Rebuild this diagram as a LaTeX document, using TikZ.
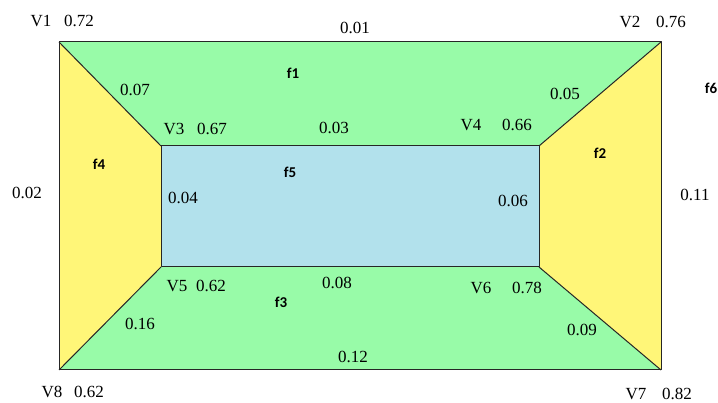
\documentclass[tikz,border=0pt]{standalone}
\usepackage{fontspec}
\setmainfont{Liberation Serif}
\newfontfamily\facefont{Carlito}
\begin{document}
\begin{tikzpicture}[x=1pt,y=-1pt,
  edge/.style={draw=black!85,line width=1pt,line join=round},
  val/.style={font=\fontsize{17}{19}\selectfont,inner sep=0pt},
  face/.style={font=\facefont\bfseries\fontsize{15}{17}\selectfont,inner sep=0pt}]
\definecolor{facegreen}{RGB}{152,251,168}
\definecolor{faceyellow}{RGB}{255,246,120}
\definecolor{faceblue}{RGB}{178,225,236}
\useasboundingbox (0,0) rectangle (718,403);
% vertices
\coordinate (v1) at (59,42);
\coordinate (v2) at (661,42);
\coordinate (v7) at (661,370);
\coordinate (v8) at (59,370);
\coordinate (v3) at (161,146);
\coordinate (v4) at (539,146);
\coordinate (v6) at (539,267);
\coordinate (v5) at (161,267);
% faces
\fill[facegreen] (v1) -- (v2) -- (v4) -- (v3) -- cycle;
\fill[facegreen] (v5) -- (v6) -- (v7) -- (v8) -- cycle;
\fill[faceyellow] (v1) -- (v3) -- (v5) -- (v8) -- cycle;
\fill[faceyellow] (v2) -- (v7) -- (v6) -- (v4) -- cycle;
\fill[faceblue] (v3) -- (v4) -- (v6) -- (v5) -- cycle;
% edges
\draw[edge] (v1) -- (v2) -- (v7) -- (v8) -- cycle;
\draw[edge] (v3) -- (v4) -- (v6) -- (v5) -- cycle;
\draw[edge] (v1) -- (v3);
\draw[edge] (v2) -- (v4);
\draw[edge] (v7) -- (v6);
\draw[edge] (v8) -- (v5);
% vertex labels
\node[val] (lv1) at (41,21) {V1};
\node[val] (wv1) at (79,21) {0.72};
\node[val] (lv2) at (630,22) {V2};
\node[val] (wv2) at (671,22) {0.76};
\node[val] (lv3) at (174,129) {V3};
\node[val] (wv3) at (212,129) {0.67};
\node[val] (lv4) at (471,125) {V4};
\node[val] (wv4) at (517,125) {0.66};
\node[val] (lv5) at (177,286) {V5};
\node[val] (wv5) at (211,286) {0.62};
\node[val] (lv6) at (481,288) {V6};
\node[val] (wv6) at (527,288) {0.78};
\node[val] (lv7) at (636,394) {V7};
\node[val] (wv7) at (677,394) {0.82};
\node[val] (lv8) at (52,392) {V8};
\node[val] (wv8) at (89,392) {0.62};
% edge labels
\node[val] (e12) at (355,28) {0.01};
\node[val] (e13) at (135,90) {0.07};
\node[val] (e24) at (565,94) {0.05};
\node[val] (e34) at (334,128) {0.03};
\node[val] (e18) at (27,193) {0.02};
\node[val] (e27) at (695,195) {0.11};
\node[val] (e35) at (183,198) {0.04};
\node[val] (e46) at (513,201) {0.06};
\node[val] (e56) at (337,283) {0.08};
\node[val] (e58) at (140,324) {0.16};
\node[val] (e67) at (582,330) {0.09};
\node[val] (e78) at (353,357) {0.12};
% face labels
\node[face] (f1) at (293,73) {f1};
\node[face] (f2) at (600,153) {f2};
\node[face] (f3) at (281,302) {f3};
\node[face] (f4) at (99,164) {f4};
\node[face] (f5) at (290,172) {f5};
\node[face] (f6) at (711,88) {f6};
\end{tikzpicture}
\end{document}
